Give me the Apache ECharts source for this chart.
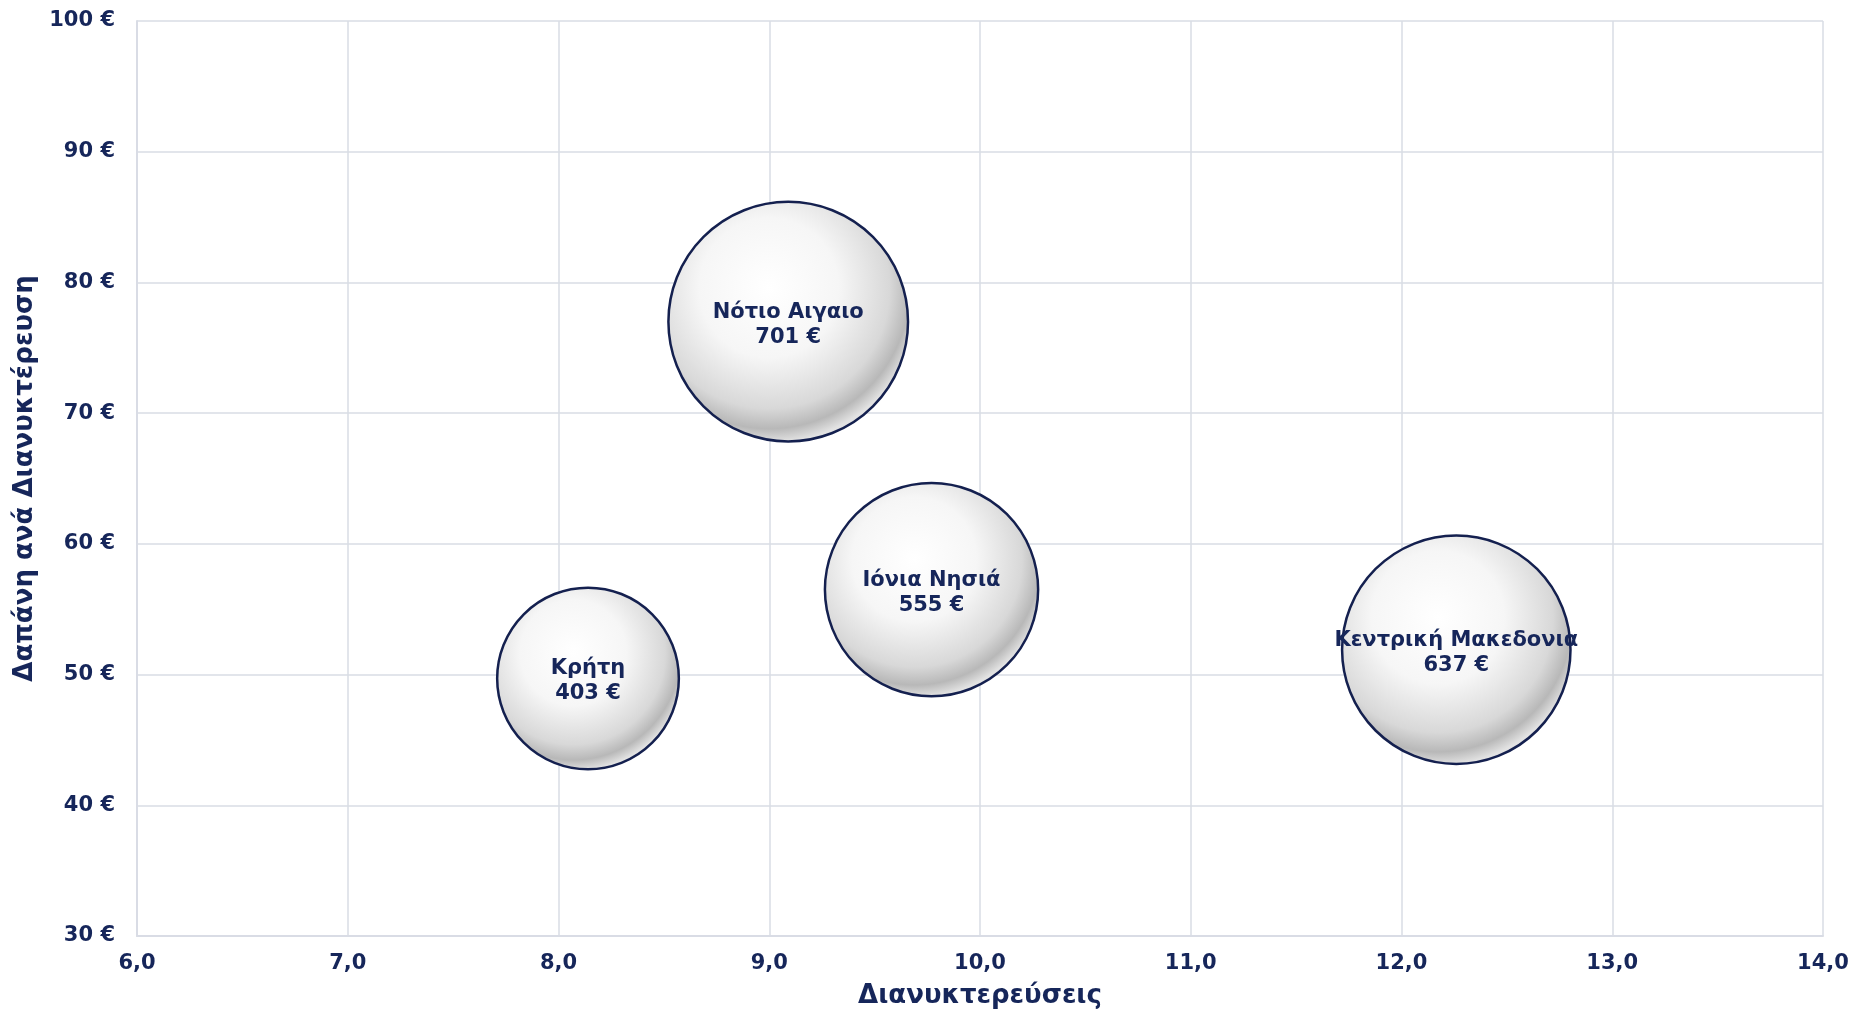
<!DOCTYPE html>
<html>
<head>
<meta charset="utf-8">
<script src="https://cdn.jsdelivr.net/npm/echarts@6/dist/echarts.min.js"></script>
<style>
html,body{margin:0;padding:0;background:#fff;}
#chart{width:1856px;height:1014px;}
</style>
</head>
<body>
<div id="chart"></div>
<script>
const regions = ['Κρήτη', 'Νότιο Αιγαιο', 'Ιόνια Νησιά', 'Κεντρική Μακεδονια'];
const overnights = [8.14, 9.09, 9.77, 12.26];
const spendPerNight = [49.7, 77.0, 56.5, 51.9];
const totalSpend = [403, 701, 555, 637];
const xAxisTitle = 'Διανυκτερεύσεις';
const yAxisTitle = 'Δαπάνη ανά Διανυκτέρευση';

const NAVY = '#16265a';
const GRID = '#d9dce5';
const FONT = '"DejaVu Sans", Verdana, sans-serif';

const data = regions.map((r, i) => ({
  name: r,
  value: [overnights[i], spendPerNight[i], totalSpend[i]]
}));

const chart = echarts.init(document.getElementById('chart'));
chart.setOption({
  animation: false,
  backgroundColor: '#ffffff',
  grid: { left: 137, right: 33, top: 21, bottom: 75, containLabel: false },
  xAxis: {
    type: 'value', min: 6, max: 14, interval: 1,
    name: xAxisTitle, nameLocation: 'middle', nameGap: 47,
    nameTextStyle: { color: NAVY, fontFamily: FONT, fontWeight: 'bold', fontSize: 26 },
    axisLine: { show: true, lineStyle: { color: GRID, width: 2 } },
    axisTick: { show: false },
    splitLine: { show: true, lineStyle: { color: GRID, width: 1.5 } },
    axisLabel: {
      color: NAVY, fontFamily: FONT, fontWeight: 'bold', fontSize: 21, margin: 17,
      formatter: v => v.toFixed(1).replace('.', ',')
    }
  },
  yAxis: {
    type: 'value', min: 30, max: 100, interval: 10,
    name: yAxisTitle, nameLocation: 'middle', nameGap: 98, nameRotate: 90,
    nameTextStyle: { color: NAVY, fontFamily: FONT, fontWeight: 'bold', fontSize: 26 },
    axisLine: { show: true, lineStyle: { color: GRID, width: 2 } },
    axisTick: { show: false },
    splitLine: { show: true, lineStyle: { color: GRID, width: 1.5 } },
    axisLabel: {
      color: NAVY, fontFamily: FONT, fontWeight: 'bold', fontSize: 21, margin: 22,
      formatter: v => v + ' €'
    }
  },
  series: [{
    type: 'scatter',
    data: data,
    symbol: 'circle',
    symbolSize: v => Math.sqrt(v[2]) * 9.05,
    itemStyle: {
      opacity: 1,
      color: {
        type: 'radial', x: 0.42, y: 0.36, r: 0.64,
        colorStops: [
          { offset: 0, color: '#ffffff' },
          { offset: 0.45, color: '#f6f6f6' },
          { offset: 0.78, color: '#d8d8d8' },
          { offset: 0.91, color: '#b8b8b8' },
          { offset: 1, color: '#e2e2e2' }
        ]
      },
      borderColor: '#14204f',
      borderWidth: 2.5
    },
    label: {
      show: true, position: 'inside', offset: [0, 3],
      color: NAVY, fontFamily: FONT, fontWeight: 'bold', fontSize: 21, lineHeight: 25,
      textBorderWidth: 0, textBorderColor: 'transparent',
      formatter: p => p.name + '\n' + p.value[2] + ' €'
    },
    emphasis: { disabled: true }
  }]
});
</script>
</body>
</html>
